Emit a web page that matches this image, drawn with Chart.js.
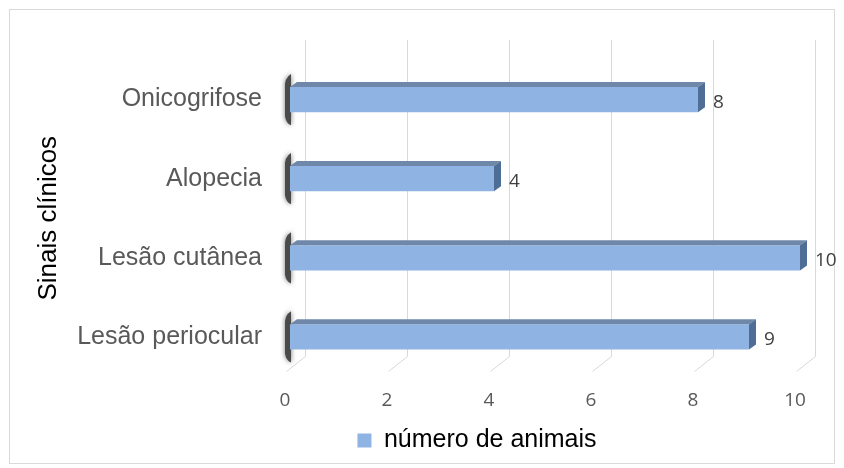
<!DOCTYPE html>
<html>
<head>
<meta charset="utf-8">
<script src="https://cdn.jsdelivr.net/npm/chart.js@4/dist/chart.umd.min.js"></script>
<style>
html,body{margin:0;padding:0;background:#fff;}
#wrap{position:absolute;left:0;top:0;width:844px;height:468px;}
</style>
</head>
<body>
<div id="wrap"><canvas id="c" width="844" height="468"></canvas></div>
<script>
const categories = ["Onicogrifose", "Alopecia", "Lesão cutânea", "Lesão periocular"];
const seriesName = "número de animais";
const values = [8, 4, 10, 9];
const xTicks = [0, 2, 4, 6, 8, 10];
const yTitle = "Sinais clínicos";

const FONT = "'Liberation Sans', Arial, sans-serif";
const NUMFONT = "'Open Sans', 'Liberation Sans', sans-serif";
const DEPTH_X = 7, DEPTH_Y = 5;
const LEGEND_SHIFT = 72;

const decor = {
  id: 'decor',
  afterLayout(chart) {
    if (chart.legend) {
      chart.legend.left += LEGEND_SHIFT;
      chart.legend.right += LEGEND_SHIFT;
    }
  },
  beforeDraw(chart) {
    const ctx = chart.ctx;
    ctx.save();
    ctx.fillStyle = '#fff';
    ctx.fillRect(0, 0, chart.width, chart.height);
    ctx.strokeStyle = '#d9d9d9';
    ctx.lineWidth = 1;
    ctx.strokeRect(9.5, 9.5, 825, 454);
    ctx.restore();
  },
  beforeDatasetsDraw(chart) {
    const ctx = chart.ctx, xs = chart.scales.x, area = chart.chartArea;
    ctx.save();
    ctx.strokeStyle = '#d9d9d9';
    ctx.lineWidth = 1;
    xTicks.forEach(v => {
      const px = Math.round(xs.getPixelForValue(v)) + 0.5;
      ctx.beginPath();
      ctx.moveTo(px + 15, 40);
      ctx.lineTo(px + 15, area.bottom - 20);
      ctx.lineTo(px - 4, area.bottom - 5);
      ctx.stroke();
    });
    const meta = chart.getDatasetMeta(0);
    meta.data.forEach(bar => {
      const top = bar.y - bar.height / 2, bot = bar.y + bar.height / 2;
      ctx.save();
      ctx.shadowColor = 'rgba(0,0,0,0.55)';
      ctx.shadowBlur = 5;
      ctx.fillStyle = '#4a4a4a';
      ctx.beginPath();
      ctx.moveTo(bar.base + 1, top - 13);
      ctx.quadraticCurveTo(bar.base - 6, top - 9, bar.base - 5, top + 2);
      ctx.lineTo(bar.base - 5, bot + 4);
      ctx.quadraticCurveTo(bar.base - 4, bot + 11, bar.base + 1, bot + 13);
      ctx.lineTo(bar.base + 1, top - 13);
      ctx.fill();
      ctx.restore();
    });
    ctx.restore();
  },
  afterDatasetsDraw(chart) {
    const ctx = chart.ctx;
    const meta = chart.getDatasetMeta(0);
    ctx.save();
    meta.data.forEach((bar, i) => {
      const top = bar.y - bar.height / 2, bot = bar.y + bar.height / 2;
      ctx.fillStyle = '#6f88aa';
      ctx.beginPath();
      ctx.moveTo(bar.base, top);
      ctx.lineTo(bar.x, top);
      ctx.lineTo(bar.x + DEPTH_X, top - DEPTH_Y);
      ctx.lineTo(bar.base + DEPTH_X, top - DEPTH_Y);
      ctx.closePath();
      ctx.fill();
      ctx.fillStyle = '#4f6e96';
      ctx.beginPath();
      ctx.moveTo(bar.x, top);
      ctx.lineTo(bar.x + DEPTH_X, top - DEPTH_Y);
      ctx.lineTo(bar.x + DEPTH_X, bot - DEPTH_Y);
      ctx.lineTo(bar.x, bot);
      ctx.closePath();
      ctx.fill();
      ctx.fillStyle = '#404040';
      ctx.font = '19px ' + NUMFONT;
      ctx.textAlign = 'left';
      ctx.textBaseline = 'middle';
      ctx.fillText(String(values[i]), bar.x + DEPTH_X + 8, bar.y + 3);
    });
    ctx.restore();
  }
};

const ctx = document.getElementById('c').getContext('2d');
new Chart(ctx, {
  type: 'bar',
  data: {
    labels: categories,
    datasets: [{
      label: seriesName,
      data: values,
      backgroundColor: (c) => {
        const area = c.chart.chartArea;
        const el = c.element;
        if (!area || !el) return '#8fb4e3';
        const top = el.y - el.height / 2, bot = el.y + el.height / 2;
        if (!isFinite(top) || !isFinite(bot) || top === bot) return '#8fb4e3';
        const g = c.chart.ctx.createLinearGradient(0, top, 0, bot);
        g.addColorStop(0, '#a8c6ee');
        g.addColorStop(1, '#80a8dc');
        return g;
      },
      borderWidth: 0,
      barPercentage: 0.32,
      categoryPercentage: 1.0
    }]
  },
  options: {
    indexAxis: 'y',
    responsive: false,
    animation: false,
    layout: { padding: { left: 10, right: 44, top: 60, bottom: 5 } },
    plugins: {
      legend: {
        position: 'bottom',
        labels: {
          font: { family: FONT, size: 25 },
          color: '#595959',
          boxWidth: 14,
          boxHeight: 14,
          padding: 10,
          generateLabels: (chart) => [{
            text: seriesName,
            fillStyle: '#8fb4e3',
            strokeStyle: '#8fb4e3',
            lineWidth: 0,
            hidden: false,
            datasetIndex: 0
          }]
        }
      },
      tooltip: { enabled: false }
    },
    scales: {
      x: {
        min: 0, max: 10,
        afterBuildTicks: (s) => { s.ticks = xTicks.map(v => ({ value: v })); },
        grid: { display: false, drawTicks: false },
        border: { display: false },
        ticks: { font: { family: NUMFONT, size: 19 }, color: '#595959', padding: 13, labelOffset: -5 },
        afterFit: (s) => { s.height = 41.5; }
      },
      y: {
        grid: { display: false, drawTicks: false },
        border: { display: false },
        ticks: { font: { family: FONT, size: 25 }, color: '#595959', padding: 28 },
        title: { display: true, text: yTitle, font: { family: FONT, size: 26 }, color: '#000', padding: { top: 23, bottom: 0 } },
        afterFit: (s) => { s.width = 280; }
      }
    }
  },
  plugins: [decor]
});
</script>
</body>
</html>
